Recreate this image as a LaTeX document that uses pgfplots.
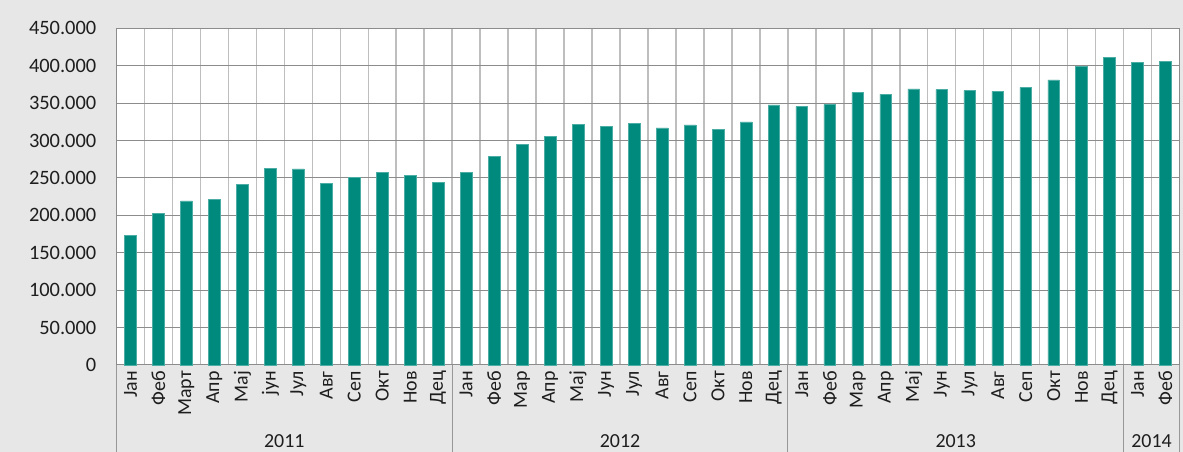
\documentclass[border=0pt]{standalone}
\usepackage{fontspec}
\setmainfont{Carlito}
\usepackage{pgfplots}
\pgfplotsset{compat=1.18}
\definecolor{bg}{RGB}{231,231,231}
\definecolor{barc}{RGB}{0,138,126}
\definecolor{hgrid}{RGB}{140,140,140}
\definecolor{vgrid}{RGB}{190,190,190}
\definecolor{txt}{RGB}{30,30,30}
\begin{document}
\begin{tikzpicture}[x=1bp,y=1bp]
\fill[bg] (0,0) rectangle (1183,452);
\useasboundingbox (0,0) rectangle (1183,452);
\begin{axis}[
  at={(116.5bp,87bp)}, anchor=south west,
  scale only axis, width=1063bp, height=336.7bp,
  xmin=-0.5, xmax=37.5, ymin=0, ymax=450000,
  scaled y ticks=false,
  axis background/.style={fill=white},
  axis line style={hgrid, line width=1pt},
  ytick={0,50000,...,450000},
  yticklabels={0,50.000,100.000,150.000,200.000,250.000,300.000,350.000,400.000,450.000},
  ymajorgrids, major grid style={hgrid, line width=1pt},
  xtick={0,...,37},
  minor xtick={0.5,1.5,...,36.5},
  xminorgrids, minor grid style={vgrid, line width=1.5pt},
  major tick length=0pt, minor tick length=0pt,
  xticklabels={Јан,Феб,Март,Апр,Мај,јун,Јул,Авг,Сеп,Окт,Нов,Дец,
               Јан,Феб,Мар,Апр,Мај,Јун,Јул,Авг,Сеп,Окт,Нов,Дец,
               Јан,Феб,Мар,Апр,Мај,Јун,Јул,Авг,Сеп,Окт,Нов,Дец,
               Јан,Феб},
  xticklabel style={rotate=90, anchor=east, inner sep=0pt, xshift=-6bp, font=\fontsize{20}{20}\selectfont, text=txt},
  yticklabel style={anchor=east, inner sep=0pt, xshift=-20bp, font=\fontsize{20.5}{20}\selectfont, text=txt},
  clip=false,
]
\addplot[ybar, bar width=11.7bp, fill=barc, draw=barc!70!white, line width=0.5pt] coordinates {
(0,173000) (1,202500) (2,219500) (3,221000) (4,241000) (5,263000) (6,262000) (7,242500) (8,250500) (9,257000) (10,253500) (11,244500)
(12,257500) (13,278500) (14,295000) (15,306000) (16,322000) (17,318500) (18,323000) (19,317000) (20,320800) (21,315000) (22,325000) (23,347500)
(24,345700) (25,348000) (26,364500) (27,362000) (28,369000) (29,368000) (30,367000) (31,365800) (32,371000) (33,381000) (34,399000) (35,411600)
(36,404000) (37,406000)
};
\pgfplotsinvokeforeach{-0.5,11.5,23.5,35.5,37.5}{
  \draw[vgrid!80!black, line width=1.2pt] (axis cs:#1,0) -- ++(0pt,-87bp);
}
\node[text=txt, font=\fontsize{20}{20}\selectfont] at ([yshift=-76bp]axis cs:5.5,0) {2011};
\node[text=txt, font=\fontsize{20}{20}\selectfont] at ([yshift=-76bp]axis cs:17.5,0) {2012};
\node[text=txt, font=\fontsize{20}{20}\selectfont] at ([yshift=-76bp]axis cs:29.5,0) {2013};
\node[text=txt, font=\fontsize{20}{20}\selectfont] at ([yshift=-76bp]axis cs:36.5,0) {2014};
\end{axis}
\end{tikzpicture}
\end{document}
